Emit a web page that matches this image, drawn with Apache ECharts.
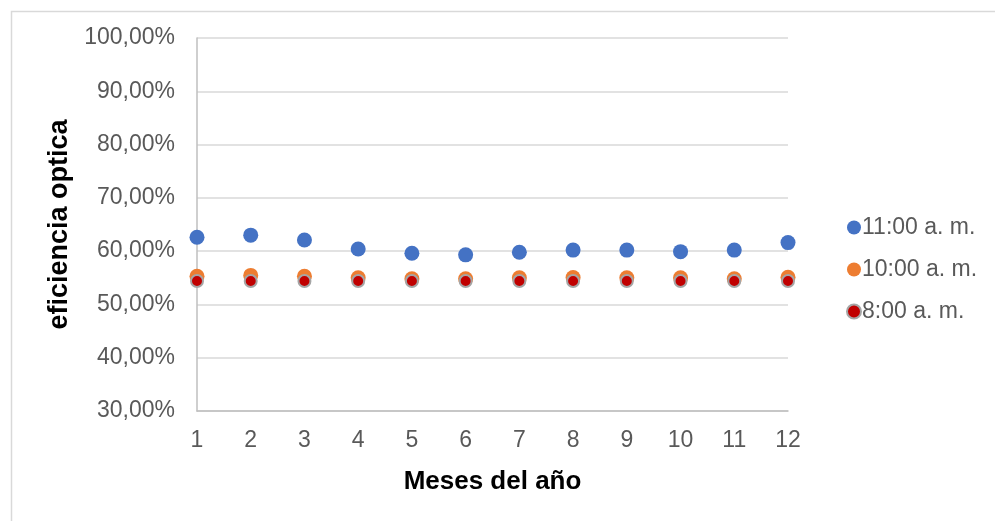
<!DOCTYPE html>
<html>
<head>
<meta charset="utf-8">
<script src="https://cdn.jsdelivr.net/npm/echarts@6/dist/echarts.min.js"></script>
<style>
html,body{margin:0;padding:0;background:#fff;}
#chart{width:995px;height:521px;}
</style>
</head>
<body>
<div id="chart"></div>
<script>
// Data (values in percent)
const months = [1,2,3,4,5,6,7,8,9,10,11,12];
const serie11 = [62.6,63.0,62.1,60.4,59.6,59.3,59.8,60.2,60.2,59.9,60.2,61.6];
const serie10 = [55.3,55.45,55.3,55.0,54.8,54.8,55.0,55.05,55.0,55.0,54.8,55.1];
const serie8  = [54.4,54.4,54.4,54.4,54.4,54.4,54.4,54.4,54.4,54.4,54.4,54.4];
const seriesNames = ['11:00 a. m.','10:00 a. m.','8:00 a. m.'];
const yMin = 30, yMax = 100, yStep = 10;
const xTitle = 'Meses del año';
const yTitle = 'eficiencia optica';

function pairs(vals){ return months.map((m,i)=>[m, vals[i]]); }

const chart = echarts.init(document.getElementById('chart'), null, {renderer:'canvas'});
const font = 'Liberation Sans, Arial, sans-serif';
chart.setOption({
  animation:false,
  backgroundColor:'#ffffff',
  graphic:[{
    type:'rect', left:9, top:9, silent:true,
    shape:{x:0,y:0,width:1100,height:700},
    style:{fill:'none', stroke:'#d9d9d9', lineWidth:1.5}
  }],
  grid:{left:197, right:207, top:38, bottom:110, containLabel:false},
  xAxis:{
    type:'value', min:1, max:12, interval:1,
    name:xTitle, nameLocation:'middle', nameGap:58,
    nameTextStyle:{fontFamily:font, fontSize:26, fontWeight:'bold', color:'#000'},
    axisLine:{show:true, onZero:false, lineStyle:{color:'#bfbfbf', width:1.5}},
    axisTick:{show:false},
    splitLine:{show:false},
    axisLabel:{fontFamily:font, fontSize:23, color:'#595959', margin:18}
  },
  yAxis:{
    type:'value', min:yMin, max:yMax, interval:yStep,
    name:yTitle, nameLocation:'middle', nameGap:122, nameRotate:90,
    nameTextStyle:{fontFamily:font, fontSize:27, fontWeight:'bold', color:'#000'},
    axisLine:{show:true, lineStyle:{color:'#bfbfbf', width:1.5}},
    axisTick:{show:false},
    splitLine:{show:true, lineStyle:{color:'#d9d9d9', width:1.5}},
    axisLabel:{fontFamily:font, fontSize:23, color:'#595959', margin:22,
      formatter:v=>v.toFixed(2).replace('.',',')+'%'}
  },
  legend:{
    orient:'vertical', left:841, top:211,
    itemWidth:14, itemHeight:14, itemGap:19,
    textStyle:{fontFamily:font, fontSize:23, color:'#595959', padding:[0,0,0,-4]},
    data:seriesNames.map(n=>({name:n, icon:'circle'}))
  },
  series:[
    {name:seriesNames[0], type:'scatter', symbol:'circle', symbolSize:15,
     itemStyle:{color:'#4472c4', opacity:1}, data:pairs(serie11)},
    {name:seriesNames[1], type:'scatter', symbol:'circle', symbolSize:15,
     itemStyle:{color:'#ed7d31', opacity:1}, data:pairs(serie10)},
    {name:seriesNames[2], type:'scatter', symbol:'circle', symbolSize:12,
     itemStyle:{color:'#c00000', borderColor:'#a5a5a5', borderWidth:2, opacity:1}, data:pairs(serie8)}
  ]
});
</script>
</body>
</html>
